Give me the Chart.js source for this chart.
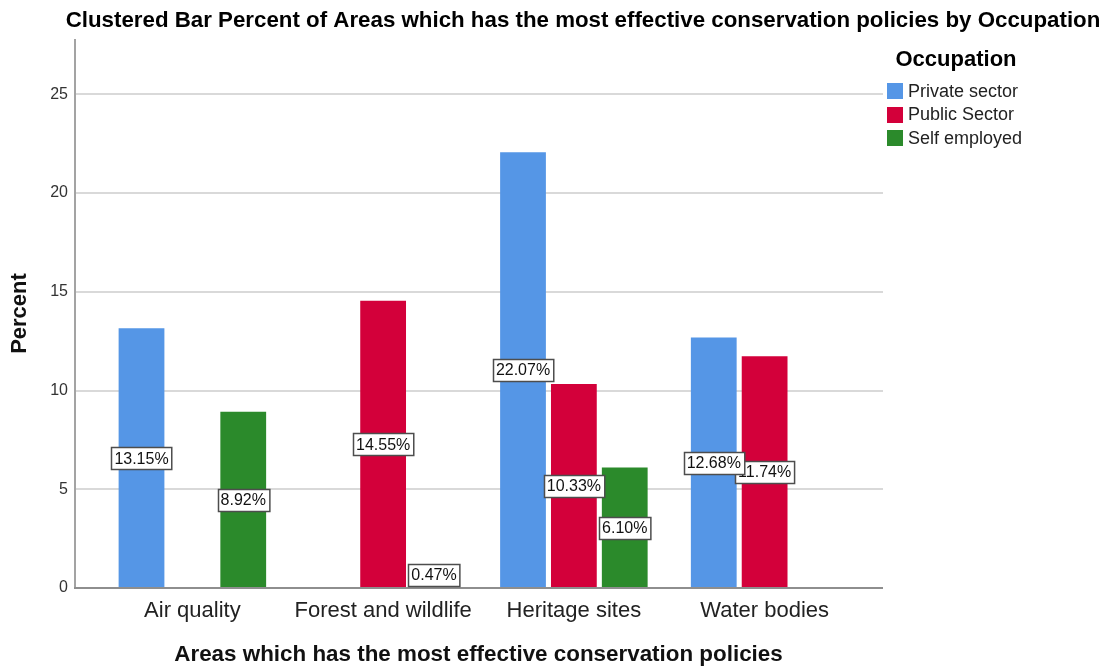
<!DOCTYPE html>
<html>
<head>
<meta charset="utf-8">
<script src="https://cdn.jsdelivr.net/npm/chart.js"></script>
<style>
  body { margin: 0; background: #fff; }
</style>
</head>
<body>
<canvas id="myChart" width="1110" height="666"></canvas>

<script>
// Data
const areas = ['Air quality', 'Forest and wildlife', 'Heritage sites', 'Water bodies'];
const occupations = ['Private sector', 'Public Sector', 'Self employed'];
const privateSector = [13.15, null, 22.07, 12.68];
const publicSector = [null, 14.55, 10.33, 11.74];
const selfEmployed = [8.92, 0.47, 6.10, null];
const yTicks = [0, 5, 10, 15, 20, 25];

const FONT = "'Liberation Sans', Arial, sans-serif";
const colors = ['#5596e6', '#d3003a', '#2b8a2b'];

// gridlines + axis lines, a bit wider than the bar area
const frame = {
  id: 'frame',
  beforeDatasetsDraw(chart) {
    const ctx = chart.ctx, y = chart.scales.y;
    const x0 = chart.chartArea.left - 22, x1 = chart.chartArea.right + 23;
    ctx.save();
    ctx.strokeStyle = '#cccccc';
    ctx.lineWidth = 1.5;
    yTicks.forEach(v => {
      if (v === 0) return;
      const py = Math.round(y.getPixelForValue(v));
      ctx.beginPath();
      ctx.moveTo(x0, py);
      ctx.lineTo(x1, py);
      ctx.stroke();
    });
    ctx.strokeStyle = '#a3a3a3';
    ctx.lineWidth = 2;
    ctx.beginPath();
    ctx.moveTo(x0, y.top);
    ctx.lineTo(x0, y.bottom);
    ctx.stroke();
    ctx.restore();
  },
  afterDatasetsDraw(chart) {
    const ctx = chart.ctx, y = chart.scales.y;
    const x0 = chart.chartArea.left - 23, x1 = chart.chartArea.right + 23;
    ctx.save();
    ctx.strokeStyle = '#8e8e8e';
    ctx.lineWidth = 2;
    ctx.beginPath();
    ctx.moveTo(x0, y.bottom);
    ctx.lineTo(x1, y.bottom);
    ctx.stroke();
    ctx.restore();
  }
};

// boxed percent labels in the middle of each bar
const barLabels = {
  id: 'barLabels',
  afterDatasetsDraw(chart) {
    const ctx = chart.ctx;
    ctx.save();
    ctx.font = '16px ' + FONT;
    ctx.textAlign = 'center';
    ctx.textBaseline = 'middle';
    [2, 1, 0].forEach(i => {
      const vals = chart.data.datasets[i].data;
      chart.getDatasetMeta(i).data.forEach((bar, j) => {
        const v = vals[j];
        if (v === null || v === undefined) return;
        const txt = v.toFixed(2) + '%';
        const w = ctx.measureText(txt).width + 6, h = 22;
        let cy = (bar.y + bar.base) / 2;
        cy = Math.min(cy, bar.base - h / 2 - 2);
        const bx = Math.round(bar.x - w / 2) + 0.5, by = Math.round(cy - h / 2) + 0.5;
        ctx.fillStyle = '#fff';
        ctx.fillRect(bx, by, w, h);
        ctx.strokeStyle = '#4d4d4d';
        ctx.lineWidth = 1.5;
        ctx.strokeRect(bx, by, w, h);
        ctx.fillStyle = '#111';
        ctx.fillText(txt, bar.x, cy + 1);
      });
    });
    ctx.restore();
  }
};

// chart title and the legend block on the right
const decor = {
  id: 'decor',
  afterDraw(chart) {
    const ctx = chart.ctx;
    ctx.save();
    ctx.fillStyle = '#000';
    ctx.textBaseline = 'middle';
    ctx.textAlign = 'center';
    ctx.font = 'bold 22.3px ' + FONT;
    ctx.fillText('Clustered Bar Percent of Areas which has the most effective conservation policies by Occupation', 583, 21);
    ctx.font = 'bold 22px ' + FONT;
    ctx.fillText('Occupation', 956, 60);
    ctx.textAlign = 'left';
    ctx.font = '18px ' + FONT;
    occupations.forEach((name, i) => {
      const cy = 91 + i * 23.5;
      ctx.fillStyle = colors[i];
      ctx.fillRect(887, Math.round(cy - 8), 16, 16);
      ctx.fillStyle = '#222';
      ctx.fillText(name, 908, cy + 1);
    });
    ctx.restore();
  }
};

const data = {
  labels: areas,
  datasets: [
    { label: occupations[0], data: privateSector, backgroundColor: colors[0] },
    { label: occupations[1], data: publicSector, backgroundColor: colors[1] },
    { label: occupations[2], data: selfEmployed, backgroundColor: colors[2] }
  ]
};

const config = {
  type: 'bar',
  data: data,
  options: {
    responsive: false,
    devicePixelRatio: 1,
    animation: false,
    layout: { padding: { left: 7, right: 250, top: 39, bottom: 0 } },
    datasets: { bar: { categoryPercentage: 0.8, barPercentage: 0.9 } },
    plugins: {
      legend: { display: false },
      title: { display: false },
      tooltip: { enabled: false }
    },
    scales: {
      x: {
        grid: { display: false, drawTicks: false },
        border: { display: false },
        ticks: { font: { family: FONT, size: 22 }, color: '#222', padding: 10 },
        title: {
          display: true,
          text: 'Areas which has the most effective conservation policies',
          font: { family: FONT, size: 22.4, weight: 'bold' },
          color: '#111',
          padding: { top: 0, bottom: -2 }
        },
        afterFit(s) { s.height = 78; }
      },
      y: {
        min: 0,
        max: 27.8,
        afterBuildTicks(s) { s.ticks = yTicks.map(v => ({ value: v })); },
        grid: { display: false, drawTicks: false },
        border: { display: false },
        ticks: { font: { family: FONT, size: 16 }, color: '#333', padding: 29 },
        title: {
          display: true,
          text: 'Percent',
          font: { family: FONT, size: 22, weight: 'bold' },
          color: '#111',
          padding: 0
        },
        afterFit(s) { s.width = 90; }
      }
    }
  },
  plugins: [frame, barLabels, decor]
};

var myChart = new Chart(document.getElementById('myChart'), config);
</script>
</body>
</html>
